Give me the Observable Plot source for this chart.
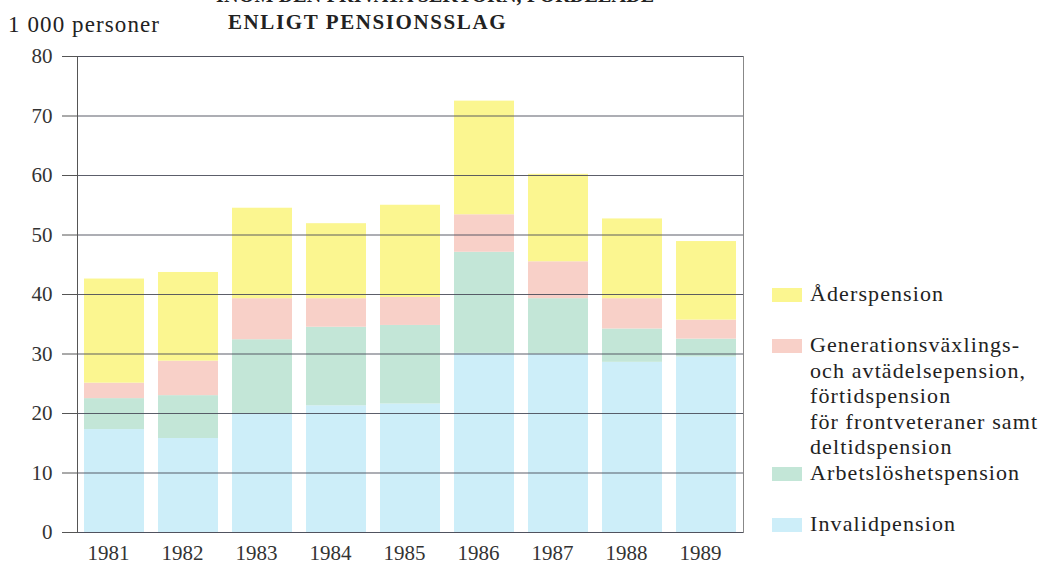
<!DOCTYPE html>
<html>
<head>
<meta charset="utf-8">
<script src="https://cdn.jsdelivr.net/npm/d3@7"></script>
<script src="https://cdn.jsdelivr.net/npm/@observablehq/plot@0.6"></script>
<style>
  html, body { margin: 0; padding: 0; background: #fff; overflow: hidden; }
  #wrap { position: relative; width: 1048px; height: 565px; font-family: "Liberation Serif", "DejaVu Serif", serif; color: #222; }
  #wrap svg { position: absolute; left: 0; top: 0; }
  .txt { position: absolute; white-space: nowrap; }
  #title0 { left: 216px; top: -15px; font-size: 20px; line-height: 20px; font-weight: bold; letter-spacing: 0.2px; }
  #title1 { left: 228px; top: 10px; font-size: 21px; line-height: 24px; font-weight: bold; letter-spacing: 1.6px; }
  #unit { left: 8px; top: 12px; font-size: 23px; line-height: 26px; letter-spacing: 1.1px; }
  .leg { position: absolute; left: 772px; }
  .sw { position: absolute; left: 0; width: 30px; height: 14px; }
  .lt { position: absolute; left: 38px; font-size: 22px; line-height: 25.5px; letter-spacing: 1.1px; white-space: nowrap; }
</style>
</head>
<body>
<div id="wrap"></div>
<script>
const years = ["1981","1982","1983","1984","1985","1986","1987","1988","1989"];
const seriesNames = [
  "Invalidpension",
  "Arbetslöshetspension",
  "Generationsväxlings- och avtädelsepension, förtidspension för frontveteraner samt deltidspension",
  "Åderspension"
];
const invalidpension = [17.3, 15.8, 20.0, 21.3, 21.6, 30.1, 30.0, 28.6, 29.5];
const arbetsloshetspension = [5.2, 7.2, 12.4, 13.2, 13.2, 17.0, 9.3, 5.6, 3.0];
const generationsvaxling = [2.6, 5.8, 6.9, 4.8, 4.7, 6.3, 6.2, 5.1, 3.2];
const alderspension = [17.5, 14.9, 15.2, 12.6, 15.5, 19.1, 14.7, 13.4, 13.2];
const seriesColors = ["#cdeef9", "#c3e6d7", "#f8d0c8", "#fbf690"];
const yTicks = [0, 10, 20, 30, 40, 50, 60, 70, 80];

const seriesValues = [invalidpension, arbetsloshetspension, generationsvaxling, alderspension];
const table = [];
years.forEach((yr, i) => {
  seriesValues.forEach((vals, s) => table.push({year: yr, series: seriesNames[s], value: vals[i]}));
});

const chart = Plot.plot({
  width: 1048,
  height: 565,
  marginLeft: 77,
  marginRight: 305,
  marginTop: 56,
  marginBottom: 33,
  style: {fontFamily: "Liberation Serif, serif", fontSize: "21px", color: "#333", background: "transparent"},
  x: {domain: years, paddingInner: 0.19, paddingOuter: 0.095, align: 0.5, label: null},
  y: {domain: [0, 80], label: null},
  color: {domain: seriesNames, range: seriesColors},
  marks: [
    Plot.barY(table, {x: "year", y: "value", fill: "series"}),
    Plot.frame({stroke: "#888", strokeWidth: 1}),
    Plot.gridY(yTicks, {stroke: "#4a4d5a", strokeOpacity: 0.9, strokeWidth: 1}),
    Plot.frame({anchor: "left", stroke: "#555", strokeWidth: 1}),
    Plot.axisY(yTicks, {tickSize: 15, tickPadding: 10, stroke: "#555", fill: "#333", label: null}),
    Plot.axisX({tickSize: 0, tickPadding: 13, dx: -6, fill: "#333", label: null})
  ]
});

const wrap = document.getElementById("wrap");
wrap.appendChild(chart);

function addText(id, cls, text) {
  const d = document.createElement("div");
  d.id = id; d.className = cls; d.textContent = text;
  wrap.appendChild(d);
}
addText("title0", "txt", "INOM DEN PRIVATA SEKTORN, FÖRDELADE");
addText("title1", "txt", "ENLIGT PENSIONSSLAG");
addText("unit", "txt", "1 000 personer");

const legendItems = [
  {color: seriesColors[3], lines: ["Åderspension"], top: 281, swTop: 7},
  {color: seriesColors[2], lines: ["Generationsväxlings-", "och avtädelsepension,", "förtidspension", "för frontveteraner samt", "deltidspension"], top: 332, swTop: 7},
  {color: seriesColors[1], lines: ["Arbetslöshetspension"], top: 460, swTop: 7},
  {color: seriesColors[0], lines: ["Invalidpension"], top: 511, swTop: 7}
];
legendItems.forEach(it => {
  const g = document.createElement("div");
  g.className = "leg"; g.style.top = it.top + "px";
  const sw = document.createElement("div");
  sw.className = "sw"; sw.style.background = it.color; sw.style.top = it.swTop + "px";
  g.appendChild(sw);
  const t = document.createElement("div");
  t.className = "lt"; t.style.top = "0px";
  t.innerHTML = it.lines.map(l => l.replace(/&/g, "&amp;").replace(/</g, "&lt;")).join("<br>");
  g.appendChild(t);
  wrap.appendChild(g);
});
</script>
</body>
</html>
